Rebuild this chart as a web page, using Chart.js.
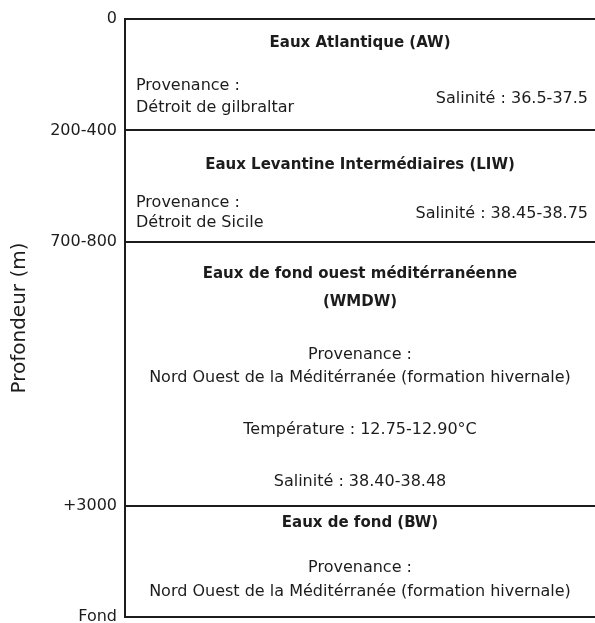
<!DOCTYPE html>
<html>
<head>
<meta charset="utf-8">
<script src="https://cdn.jsdelivr.net/npm/chart.js@4.4.1/dist/chart.umd.min.js"></script>
<style>
  html, body { margin: 0; padding: 0; background: #fff; }
  #wrap { width: 595px; height: 623px; position: relative; }
</style>
</head>
<body>
<div id="wrap"><canvas id="chart"></canvas></div>
<script>
// Depth axis: boundaries of the water masses (schematic units, not to scale)
const depthBounds = [0, 1, 2, 4.37, 5.37];
const depthLabels = ['0', '200-400', '700-800', '+3000', 'Fond'];

// Water masses, top to bottom
const layerTitles = [
  ['Eaux Atlantique (AW)'],
  ['Eaux Levantine Intermédiaires (LIW)'],
  ['Eaux de fond ouest méditérranéenne', '(WMDW)'],
  ['Eaux de fond (BW)']
];
const layerOrigins = [
  ['Provenance :', 'Détroit de gilbraltar'],
  ['Provenance :', 'Détroit de Sicile'],
  ['Provenance :', 'Nord Ouest de la Méditérranée (formation hivernale)'],
  ['Provenance :', 'Nord Ouest de la Méditérranée (formation hivernale)']
];
const layerTemperature = [null, null, 'Température : 12.75-12.90°C', null];
const layerSalinity = ['Salinité : 36.5-37.5', 'Salinité : 38.45-38.75', 'Salinité : 38.40-38.48', null];

// Where the texts sit inside each layer (px from the layer top)
const textLayout = [
  { title: [23], originAlign: 'left', origin: [66, 88], salAlign: 'right', sal: 79 },
  { title: [35], originAlign: 'left', origin: [72, 92], salAlign: 'right', sal: 83 },
  { title: [32, 60], originAlign: 'center', origin: [113, 136], temp: 188, salAlign: 'center', sal: 240 },
  { title: [17.5], originAlign: 'center', origin: [62.5, 86.5] }
];

const INK = '#1c1c1c';
const FONT = '"DejaVu Sans", sans-serif';

const whiteBg = {
  id: 'whiteBg',
  beforeDraw(chart) {
    const ctx = chart.ctx;
    ctx.save();
    ctx.fillStyle = '#fff';
    ctx.fillRect(0, 0, chart.width, chart.height);
    ctx.restore();
  }
};

// Writes the description of each water mass inside its layer
const layerText = {
  id: 'layerText',
  afterDatasetsDraw(chart) {
    const ctx = chart.ctx;
    const area = chart.chartArea;
    ctx.save();
    ctx.fillStyle = INK;
    ctx.textBaseline = 'middle';
    layerTitles.forEach((title, i) => {
      const bar = chart.getDatasetMeta(i).data[0];
      const top = Math.min(bar.y, bar.base);
      const lay = textLayout[i];
      const cx = (area.left + area.right) / 2;
      const xFor = align => align === 'left' ? area.left + 11 : align === 'right' ? area.right - 7 : cx;

      ctx.font = 'bold 15px ' + FONT;
      ctx.textAlign = 'center';
      title.forEach((t, k) => ctx.fillText(t, cx, top + lay.title[k]));

      ctx.font = '16px ' + FONT;
      ctx.textAlign = lay.originAlign;
      layerOrigins[i].forEach((t, k) => ctx.fillText(t, xFor(lay.originAlign), top + lay.origin[k]));

      if (layerTemperature[i]) {
        ctx.textAlign = 'center';
        ctx.fillText(layerTemperature[i], cx, top + lay.temp);
      }
      if (layerSalinity[i]) {
        ctx.textAlign = lay.salAlign;
        ctx.fillText(layerSalinity[i], xFor(lay.salAlign), top + lay.sal);
      }
    });
    ctx.restore();
  }
};

const datasets = layerTitles.map((title, i) => ({
  label: title.join(' '),
  data: [[depthBounds[i], depthBounds[i + 1]]],
  backgroundColor: 'rgba(255,255,255,0)',
  borderWidth: 0,
  grouped: false,
  barPercentage: 1,
  categoryPercentage: 1
}));

new Chart(document.getElementById('chart'), {
  type: 'bar',
  data: { labels: ['Colonne d\'eau'], datasets: datasets },
  options: {
    responsive: true,
    maintainAspectRatio: false,
    animation: false,
    layout: { padding: { top: 19, bottom: 6, left: 0, right: 0 } },
    plugins: {
      legend: { display: false },
      tooltip: { enabled: false }
    },
    scales: {
      x: { display: false },
      y: {
        reverse: true,
        min: depthBounds[0],
        max: depthBounds[depthBounds.length - 1],
        afterBuildTicks(scale) {
          scale.ticks = depthBounds.map(v => ({ value: v }));
        },
        afterFit(scale) {
          scale.width = 125;
          // labels at the ends may overhang the frame, as in the original
          scale.paddingTop = 0;
          scale.paddingBottom = 0;
        },
        ticks: {
          autoSkip: false,
          padding: 8,
          color: INK,
          font: { family: FONT, size: 16 },
          callback(value, index) {
            return depthLabels[index];
          }
        },
        grid: {
          drawTicks: false,
          color: INK,
          lineWidth: 2
        },
        border: { display: true, color: INK, width: 2 },
        title: {
          display: true,
          text: 'Profondeur (m)',
          color: INK,
          font: { family: FONT, size: 20, lineHeight: 1.2 },
          padding: { top: 8, bottom: 0 }
        }
      }
    }
  },
  plugins: [whiteBg, layerText]
});
</script>
</body>
</html>
